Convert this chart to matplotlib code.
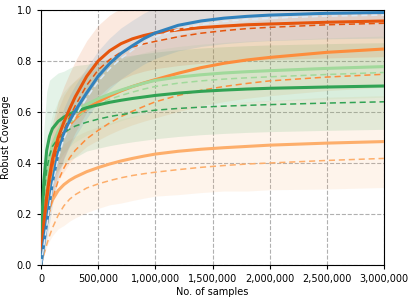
import numpy as np
import matplotlib
matplotlib.use("Agg")
import matplotlib.pyplot as plt
from matplotlib.ticker import FuncFormatter

# sample counts
samples = np.array([0, 10e3, 25e3, 50e3, 75e3, 100e3, 150e3, 200e3, 250e3, 300e3,
                    400e3, 500e3, 600e3, 700e3, 800e3, 900e3, 1.0e6, 1.2e6, 1.4e6,
                    1.6e6, 1.8e6, 2.0e6, 2.5e6, 3.0e6])

# blue
blue_mean = [0, 0.035, 0.085, 0.165, 0.245, 0.325, 0.44, 0.515, 0.565, 0.605,
             0.675, 0.74, 0.79, 0.83, 0.86, 0.888, 0.91, 0.94, 0.957,
             0.968, 0.975, 0.98, 0.987, 0.99]
blue_alt = [0, 0.03, 0.075, 0.15, 0.23, 0.305, 0.42, 0.495, 0.545, 0.585,
            0.655, 0.72, 0.77, 0.81, 0.843, 0.872, 0.895, 0.925, 0.943,
            0.955, 0.963, 0.968, 0.976, 0.98]
blue_std = [0, 0.03, 0.05, 0.07, 0.08, 0.09, 0.10, 0.10, 0.10, 0.10,
            0.10, 0.10, 0.10, 0.10, 0.10, 0.10, 0.10, 0.10, 0.10,
            0.10, 0.10, 0.10, 0.10, 0.10]

# red-orange
red_mean = [0, 0.07, 0.165, 0.27, 0.35, 0.415, 0.5, 0.56, 0.612, 0.66,
            0.74, 0.80, 0.84, 0.868, 0.887, 0.9, 0.91, 0.922, 0.931,
            0.937, 0.942, 0.945, 0.952, 0.957]
red_alt = [0, 0.06, 0.145, 0.245, 0.325, 0.39, 0.47, 0.53, 0.58, 0.625,
           0.705, 0.765, 0.805, 0.835, 0.855, 0.867, 0.877, 0.895, 0.909,
           0.919, 0.927, 0.932, 0.942, 0.948]
red_std = [0, 0.05, 0.08, 0.11, 0.13, 0.14, 0.14, 0.14, 0.14, 0.14,
           0.14, 0.14, 0.14, 0.14, 0.14, 0.14, 0.14, 0.14, 0.14,
           0.14, 0.14, 0.14, 0.14, 0.14]

# orange
orange_mean = [0, 0.05, 0.13, 0.245, 0.33, 0.39, 0.47, 0.515, 0.55, 0.575,
               0.615, 0.64, 0.663, 0.683, 0.70, 0.714, 0.727, 0.752, 0.774,
               0.791, 0.804, 0.814, 0.834, 0.847]
orange_alt = [0, 0.03, 0.08, 0.15, 0.21, 0.26, 0.33, 0.38, 0.42, 0.45,
              0.495, 0.528, 0.557, 0.582, 0.603, 0.622, 0.64, 0.665, 0.685,
              0.70, 0.712, 0.722, 0.737, 0.748]
orange_std = [0, 0.04, 0.07, 0.10, 0.12, 0.13, 0.14, 0.15, 0.15, 0.15,
              0.15, 0.15, 0.15, 0.15, 0.15, 0.15, 0.15, 0.15, 0.15,
              0.15, 0.15, 0.15, 0.15, 0.15]

# light orange
lorange_mean = [0, 0.055, 0.12, 0.18, 0.225, 0.255, 0.292, 0.315, 0.332, 0.345,
                0.366, 0.382, 0.396, 0.408, 0.418, 0.427, 0.435, 0.446, 0.454,
                0.46, 0.465, 0.47, 0.478, 0.484]
lorange_alt = [0, 0.015, 0.04, 0.08, 0.115, 0.145, 0.195, 0.232, 0.258, 0.276,
               0.302, 0.318, 0.331, 0.342, 0.351, 0.358, 0.364, 0.374, 0.383,
               0.39, 0.396, 0.40, 0.41, 0.418]
lorange_std = [0, 0.04, 0.08, 0.11, 0.13, 0.14, 0.15, 0.16, 0.16, 0.16,
               0.16, 0.16, 0.16, 0.165, 0.165, 0.165, 0.165, 0.17, 0.17,
               0.17, 0.175, 0.175, 0.18, 0.18]

# dark green
green_mean = [0, 0.20, 0.33, 0.45, 0.505, 0.535, 0.563, 0.58, 0.592, 0.602,
              0.617, 0.628, 0.638, 0.646, 0.653, 0.659, 0.665, 0.674, 0.681,
              0.686, 0.69, 0.693, 0.698, 0.702]
green_alt = [0, 0.15, 0.27, 0.375, 0.43, 0.465, 0.497, 0.518, 0.533, 0.545,
             0.56, 0.572, 0.582, 0.59, 0.596, 0.602, 0.607, 0.614, 0.619,
             0.623, 0.626, 0.629, 0.635, 0.64]
green_std = [0, 0.14, 0.20, 0.23, 0.22, 0.20, 0.19, 0.18, 0.18, 0.18,
             0.17, 0.17, 0.17, 0.17, 0.17, 0.17, 0.17, 0.17, 0.17,
             0.17, 0.17, 0.17, 0.17, 0.17]

# light green
lgreen_mean = [0, 0.13, 0.25, 0.36, 0.425, 0.47, 0.525, 0.56, 0.585, 0.603,
               0.63, 0.652, 0.67, 0.686, 0.70, 0.713, 0.724, 0.737, 0.746,
               0.753, 0.758, 0.762, 0.771, 0.778]
lgreen_alt = [0, 0.11, 0.22, 0.32, 0.39, 0.435, 0.49, 0.527, 0.555, 0.576,
              0.606, 0.63, 0.65, 0.665, 0.678, 0.69, 0.70, 0.713, 0.722,
              0.729, 0.734, 0.738, 0.747, 0.755]
lgreen_std = [0, 0.06, 0.09, 0.11, 0.12, 0.12, 0.12, 0.12, 0.12, 0.12,
              0.12, 0.12, 0.12, 0.12, 0.12, 0.12, 0.12, 0.12, 0.12,
              0.12, 0.12, 0.12, 0.12, 0.12]

x_ticks = [0, 500000, 1000000, 1500000, 2000000, 2500000, 3000000]
y_ticks = [0.0, 0.2, 0.4, 0.6, 0.8, 1.0]

series = [
    (lorange_mean, lorange_alt, lorange_std, '#fdae6b', '#fdae6b'),
    (orange_mean, orange_alt, orange_std, '#fd8d3c', '#fd8d3c'),
    (lgreen_mean, lgreen_alt, lgreen_std, '#a1d99b', '#a1d99b'),
    (green_mean, green_alt, green_std, '#31a354', '#31a354'),
    (red_mean, red_alt, red_std, '#e6550d', '#e6550d'),
    (blue_mean, blue_alt, blue_std, '#3182bd', '#dbe9f6'),
]

fig = plt.figure(figsize=(4.15, 3.01), dpi=100)
ax = fig.add_axes([41/415, 1-265/301, (384-41)/415, (265-10)/301])

for mean, alt, std, col, dcol in series:
    m = np.array(mean)
    s = np.array(std)
    ax.fill_between(samples, m - s, m + s, color=col, alpha=0.13, linewidth=0, zorder=1)

for i, (mean, alt, std, col, dcol) in enumerate(series):
    ax.plot(samples, mean, color=col, lw=2.2, solid_joinstyle='round', zorder=3 + i)
    ax.plot(samples, alt, color=dcol, lw=1.1, ls=(0, (4, 2.5)), zorder=3 + i)

ax.set_xlim(0, 3000000)
ax.set_ylim(0, 1.0)
ax.set_xticks(x_ticks)
ax.set_yticks(y_ticks)
ax.xaxis.set_major_formatter(FuncFormatter(lambda v, p: f"{int(v):,}"))
ax.yaxis.set_major_formatter(FuncFormatter(lambda v, p: f"{v:.1f}"))
ax.tick_params(labelsize=7, length=3, width=0.8)
ax.grid(True, ls='--', color='#b0b0b0', lw=0.8)
ax.set_axisbelow(True)
ax.set_xlabel('No. of samples', fontsize=7, labelpad=2)
ax.set_ylabel('Robust Coverage', fontsize=7, labelpad=4)

fig.savefig('out.png', dpi=100)
